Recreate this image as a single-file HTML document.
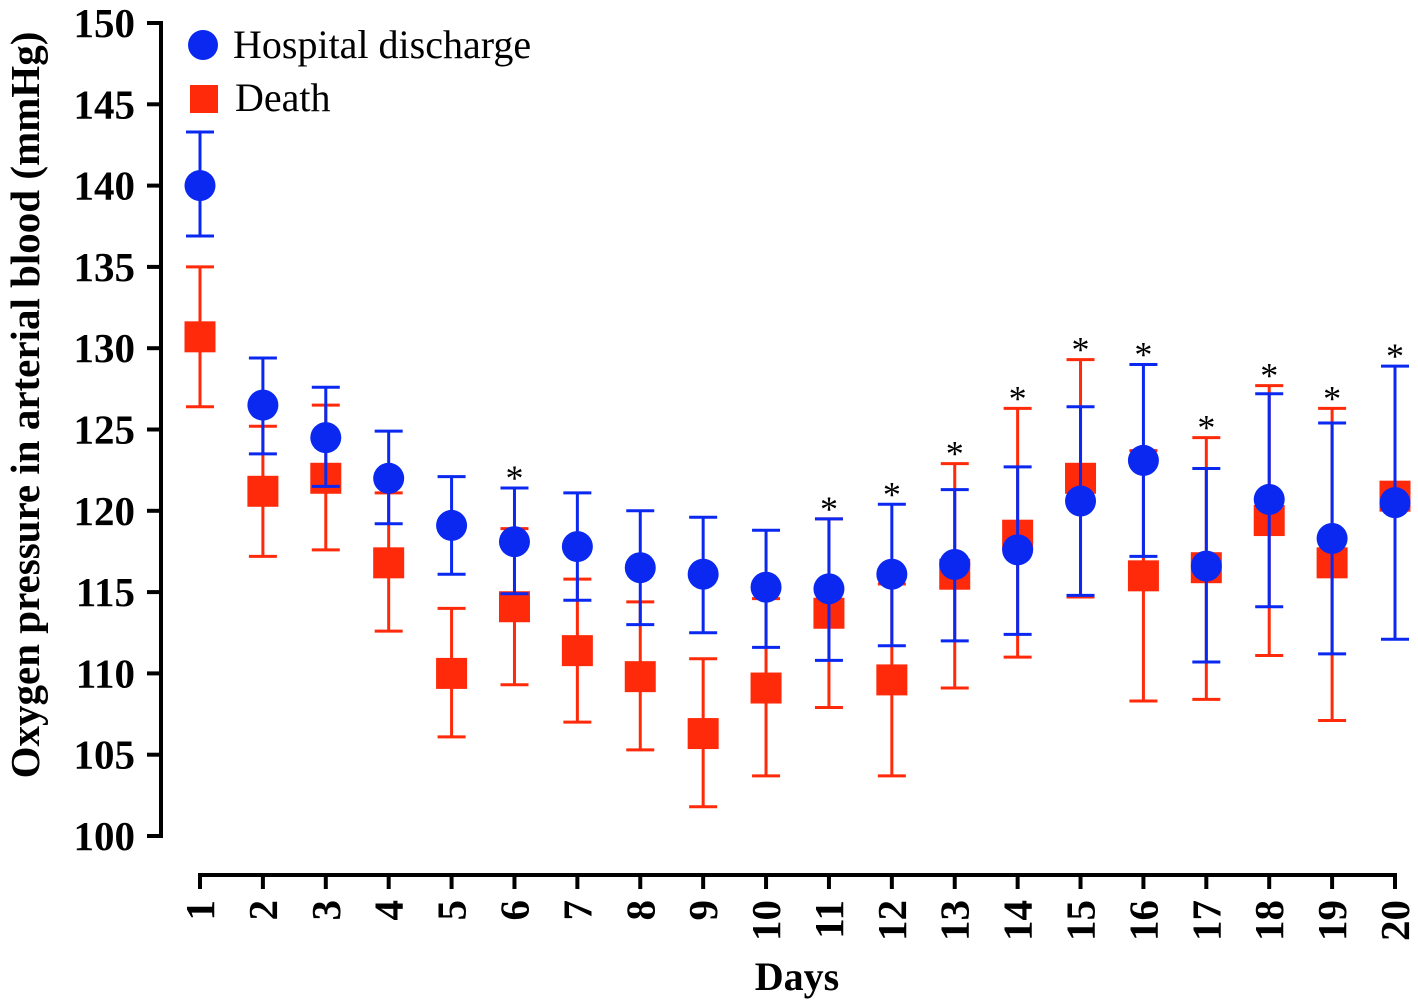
<!DOCTYPE html>
<html><head><meta charset="utf-8"><style>body{margin:0;background:#fff}svg{display:block}</style></head>
<body>
<svg id="chart" width="1418" height="1005" xmlns="http://www.w3.org/2000/svg" font-family="Liberation Serif, serif">
<g id="axes"></g>
<g id="marks"></g>
<text transform="translate(39,405) rotate(-90)" text-anchor="middle" font-size="41" font-weight="bold">Oxygen pressure in arterial blood (mmHg)</text>
<text x="797" y="990" text-anchor="middle" font-size="40" font-weight="bold">Days</text>
<g>
<circle cx="203" cy="45" r="15" fill="#0a28f0"/>
<text x="233" y="58" font-size="40">Hospital discharge</text>
<rect x="190" y="85" width="28" height="28" fill="#ff2a0a"/>
<text x="235" y="111" font-size="40">Death</text>
</g>
</svg>
<script>
const days=[1,2,3,4,5,6,7,8,9,10,11,12,13,14,15,16,17,18,19,20];
const dischargeMean=[140,126.5,124.5,122,119.1,118.1,117.8,116.5,116.1,115.3,115.2,116.1,116.7,117.6,120.6,123.1,116.6,120.7,118.3,120.5];
const dischargeLow=[136.9,123.5,121.5,119.2,116.1,114.9,114.5,113,112.5,111.6,110.8,111.7,112,112.4,114.8,117.2,110.7,114.1,111.2,112.1];
const dischargeHigh=[143.3,129.4,127.6,124.9,122.1,121.4,121.1,120,119.6,118.8,119.5,120.4,121.3,122.7,126.4,129,122.6,127.2,125.4,128.9];
const deathMean=[130.7,121.2,122,116.8,110,114.1,111.4,109.8,106.3,109.1,113.7,109.6,116.1,118.5,122,116,116.5,119.4,116.8,120.9];
const deathLow=[126.4,117.2,117.6,112.6,106.1,109.3,107,105.3,101.8,103.7,107.9,103.7,109.1,111,114.7,108.3,108.4,111.1,107.1,120.2];
const deathHigh=[135,125.2,126.5,121.1,114,118.9,115.8,114.4,110.9,114.6,119.5,115.5,122.9,126.3,129.3,123.7,124.5,127.7,126.3,121.6];
const significant=[6,11,12,13,14,15,16,17,18,19,20];
const yTicks=[100,105,110,115,120,125,130,135,140,145,150];
const NS='http://www.w3.org/2000/svg';
const X=d=>200+(d-1)*(1395-200)/19;
const Y=v=>836-(v-100)*(836-23)/50;
function mk(p,t,a){const e=document.createElementNS(NS,t);for(const k in a)e.setAttribute(k,a[k]);p.appendChild(e);return e;}
const ax=document.getElementById('axes'),mg=document.getElementById('marks');
let l=mk(ax,'path',{d:`M147 ${Y(150)}H161V${Y(100)}H147`,fill:'none',stroke:'#000','stroke-width':4});

yTicks.forEach(v=>{
 const t=mk(ax,'line',{x1:147,x2:161,y1:Y(v),y2:Y(v),stroke:'#000','stroke-width':4});
 
 const tx=mk(ax,'text',{x:135,y:Y(v)+14,'text-anchor':'end','font-size':41,'font-weight':'bold'});tx.textContent=v;
 
});
l=mk(ax,'line',{x1:X(1)-2,x2:X(20)+2,y1:875,y2:875,stroke:'#000','stroke-width':4});

days.forEach(d=>{
 const t=mk(ax,'line',{x1:X(d),x2:X(d),y1:875,y2:889,stroke:'#000','stroke-width':4});
 
 const tx=mk(ax,'text',{transform:`translate(${X(d)+14},900) rotate(-90)`,'text-anchor':'end','font-size':41,'font-weight':'bold'});tx.textContent=d;
 
});
function err(x,lo,hi,c,name){
 const e=mk(mg,'path',{d:`M${x} ${Y(lo)}V${Y(hi)}M${x-14} ${Y(lo)}H${x+14}M${x-14} ${Y(hi)}H${x+14}`,stroke:c,'stroke-width':3,fill:'none'});
 
}
days.forEach((d,i)=>{
 err(X(d),deathLow[i],deathHigh[i],'#ff2a0a','death-error-bar');
 const r=mk(mg,'rect',{x:X(d)-15.5,y:Y(deathMean[i])-15.5,width:31,height:31,fill:'#ff2a0a'});
 
});
days.forEach((d,i)=>{
 err(X(d),dischargeLow[i],dischargeHigh[i],'#0a28f0','discharge-error-bar');
 const c=mk(mg,'circle',{cx:X(d),cy:Y(dischargeMean[i]),r:15.5,fill:'#0a28f0'});
 
});
significant.forEach(d=>{
 const i=d-1;const top=Math.max(dischargeHigh[i],deathHigh[i]);
 const s=mk(mg,'text',{x:X(d),y:Y(top)+2,'text-anchor':'middle','font-size':36});s.textContent='*';
 
});
</script>
</body></html>
